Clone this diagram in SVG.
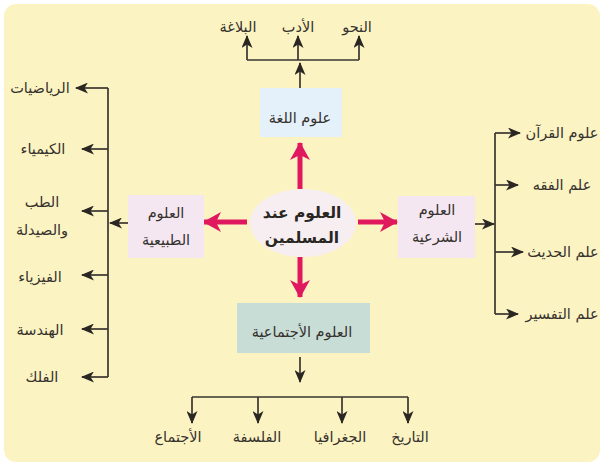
<svg xmlns="http://www.w3.org/2000/svg" width="606" height="470" viewBox="0 0 606 470">
<style>
.t{font-family:"DejaVu Sans",sans-serif;font-size:14.5px;fill:#35322d;text-anchor:middle}
.b{font-weight:bold;font-size:15.5px;fill:#2a2622}
.ln{fill:none;stroke:#3a3530;stroke-width:1.7}
.pk{fill:none;stroke:#e0195f;stroke-width:5}
</style>
<defs>
<marker id="ah" markerUnits="userSpaceOnUse" markerWidth="13" markerHeight="11" refX="12" refY="5.5" orient="auto">
<path d="M0,0 L13,5.5 L0,11 L3.5,5.5 z" fill="#2a2622"/>
</marker>
<marker id="pa" markerUnits="userSpaceOnUse" markerWidth="18" markerHeight="20" refX="17" refY="10" orient="auto">
<path d="M0,0 L18,10 L0,20 L5,10 z" fill="#e0195f"/>
</marker>
</defs>
<rect x="0" y="0" width="606" height="470" fill="#ffffff"/>
<rect x="4" y="4" width="596" height="458" rx="12" fill="#fcf3c3"/>

<g id="connectors">
<path class="ln" d="M300,88 L300,63" marker-end="url(#ah)"/>
<path class="ln" d="M247,60 L359,60"/>
<path class="ln" d="M247,60 L247,36" marker-end="url(#ah)"/>
<path class="ln" d="M298,60 L298,36" marker-end="url(#ah)"/>
<path class="ln" d="M359,60 L359,36" marker-end="url(#ah)"/>

<path class="ln" d="M108,88 L108,377"/>
<path class="ln" d="M128,223 L110,223" marker-end="url(#ah)"/>
<path class="ln" d="M108,88 L76,88" marker-end="url(#ah)"/>
<path class="ln" d="M108,149 L82,149" marker-end="url(#ah)"/>
<path class="ln" d="M108,211 L82,211" marker-end="url(#ah)"/>
<path class="ln" d="M108,275 L82,275" marker-end="url(#ah)"/>
<path class="ln" d="M108,329 L82,329" marker-end="url(#ah)"/>
<path class="ln" d="M108,377 L82,377" marker-end="url(#ah)"/>

<path class="ln" d="M495,133 L495,314"/>
<path class="ln" d="M475,224 L494,224" marker-end="url(#ah)"/>
<path class="ln" d="M495,133 L520,133" marker-end="url(#ah)"/>
<path class="ln" d="M495,185 L518,185" marker-end="url(#ah)"/>
<path class="ln" d="M495,252 L523,252" marker-end="url(#ah)"/>
<path class="ln" d="M495,314 L518,314" marker-end="url(#ah)"/>

<path class="ln" d="M300,357 L300,382" marker-end="url(#ah)"/>
<path class="ln" d="M192,397 L408,397"/>
<path class="ln" d="M192,397 L192,423" marker-end="url(#ah)"/>
<path class="ln" d="M258,397 L258,423" marker-end="url(#ah)"/>
<path class="ln" d="M342,397 L342,423" marker-end="url(#ah)"/>
<path class="ln" d="M408,397 L408,423" marker-end="url(#ah)"/>

<path class="pk" d="M300,189 L300,143" marker-end="url(#pa)"/>
<path class="pk" d="M247,222 L204,222" marker-end="url(#pa)"/>
<path class="pk" d="M358,222 L397,222" marker-end="url(#pa)"/>
<path class="pk" d="M300,257 L300,297" marker-end="url(#pa)"/>
</g>

<g id="center">
<ellipse cx="303" cy="223" rx="53" ry="34" fill="#f6eef1"/>
<text class="t b" x="302" y="218">العلوم عند</text>
<text class="t b" x="302" y="243">المسلمين</text>
</g>

<g id="lang">
<rect x="260" y="88" width="82" height="49" fill="#e4f0fa"/>
<text class="t" x="300" y="123">علوم اللغة</text>
</g>
<g id="lang-items">
<text class="t" x="238" y="32">البلاغة</text>
<text class="t" x="298" y="32">الأدب</text>
<text class="t" x="357" y="32">النحو</text>
</g>

<g id="natural">
<rect x="128" y="195" width="76" height="63" fill="#f4e7f2"/>
<text class="t" x="166" y="218">العلوم</text>
<text class="t" x="166" y="245">الطبيعية</text>
</g>
<g id="natural-items">
<text class="t" x="40" y="93">الرياضيات</text>
<text class="t" x="43" y="154">الكيمياء</text>
<text class="t" x="42" y="207">الطب</text>
<text class="t" x="42" y="235">والصيدلة</text>
<text class="t" x="40" y="282">الفيزياء</text>
<text class="t" x="40" y="335">الهندسة</text>
<text class="t" x="42" y="382">الفلك</text>
</g>

<g id="sharia">
<rect x="398" y="196" width="77" height="62" fill="#f4e7f2"/>
<text class="t" x="437" y="215">العلوم</text>
<text class="t" x="437" y="242">الشرعية</text>
</g>
<g id="sharia-items">
<text class="t" x="562" y="138">علوم القرآن</text>
<text class="t" x="562" y="190">علم الفقه</text>
<text class="t" x="563" y="257">علم الحديث</text>
<text class="t" x="562" y="319">علم التفسير</text>
</g>

<g id="social">
<rect x="237" y="303" width="133" height="50" fill="#c9ddd7"/>
<text class="t" x="302" y="337">العلوم الأجتماعية</text>
</g>
<g id="social-items">
<text class="t" x="178" y="442">الأجتماع</text>
<text class="t" x="257" y="442">الفلسفة</text>
<text class="t" x="340" y="442">الجغرافيا</text>
<text class="t" x="410" y="442">التاريخ</text>
</g>
</svg>
